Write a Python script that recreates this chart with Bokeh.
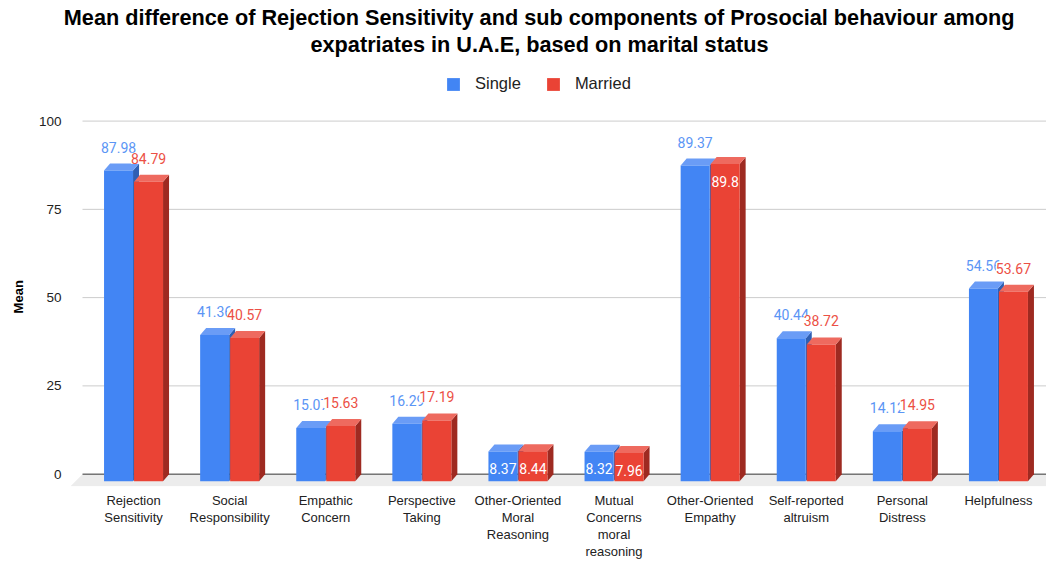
import numpy as np
from bokeh.plotting import figure
from bokeh.models import Range1d, FixedTicker, Legend, LegendItem, Title
from bokeh.core.properties import value
from bokeh.embed import file_html
from bokeh.resources import INLINE

# ---------------- data ----------------
categories = [
    "Rejection\nSensitivity",
    "Social\nResponsibility",
    "Empathic\nConcern",
    "Perspective\nTaking",
    "Other-Oriented\nMoral\nReasoning",
    "Mutual\nConcerns\nmoral\nreasoning",
    "Other-Oriented\nEmpathy",
    "Self-reported\naltruism",
    "Personal\nDistress",
    "Helpfulness",
]
single = [87.98, 41.36, 15.07, 16.29, 8.37, 8.32, 89.37, 40.44, 14.12, 54.56]
married = [84.79, 40.57, 15.63, 17.19, 8.44, 7.96, 89.8, 38.72, 14.95, 53.67]
# labels drawn inside the bar end (white) instead of above it
single_inside = [False, False, False, False, True, True, False, False, False, False]
married_inside = [False, False, False, False, True, True, True, False, False, False]
y_ticks = [0, 25, 50, 75, 100]
series_names = ["Single", "Married"]
title_lines = [
    "Mean difference of Rejection Sensitivity and sub components of Prosocial behaviour among",
    "expatriates in U.A.E, based on marital status",
]
y_title = "Mean"

# ---------------- geometry helpers ----------------
TOP = 56                      # space for the two title lines
LEFT = 70
FW, FH = 976, 430
PXY = 376 / 106.5             # pixels per value unit
X0, X1 = -0.156, 10.0
Y0 = -3.5
Y1 = Y0 + FH / PXY
PXX = FW / (X1 - X0)


def hx(px):
    return px / PXX


def hy(px):
    return px / PXY


DX, DY = hx(6), hy(7)
W, G = hx(29), hx(1)
n = len(categories)
centers = np.arange(n) + 0.5

BLUE, BLUE_TOP, BLUE_SIDE = "#4285f4", "#6a9cf6", "#2f5fb3"
RED, RED_TOP, RED_SIDE = "#ea4335", "#ee6a5f", "#9e2a21"
BLUE_TXT, RED_TXT = "#5b95f5", "#ec5045"

p = figure(
    frame_width=FW, frame_height=FH,
    x_range=Range1d(X0, X1), y_range=Range1d(Y0, Y1),
    output_backend="svg", toolbar_location=None,
    min_border_left=LEFT, min_border_top=TOP, min_border_right=0, min_border_bottom=0,
)
p.title.text = ""
p.title.standoff = 0
p.outline_line_color = None
p.grid.visible = False
p.background_fill_color = "white"

# floor slab
xg = X0 + hx(12)
p.patch([xg, X1, X1, xg - hx(12)], [0, 0, -hy(12), -hy(12)],
        fill_color="#ececec", line_color=None)
# gridlines
p.segment(x0=[xg] * 4, y0=y_ticks[1:], x1=[X1] * 4, y1=y_ticks[1:],
          line_color="#cccccc", line_width=1)
p.segment(x0=[xg], y0=[0], x1=[X1], y1=[0], line_color="#333333", line_width=1)


def faces(vals, xl_arr):
    fx, fy, tx, ty, sx, sy = [], [], [], [], [], []
    for v, xl in zip(vals, xl_arr):
        xr = xl + W
        fx.append([xl, xr, xr, xl]); fy.append([-DY, -DY, v - DY, v - DY])
        tx.append([xl, xr, xr + DX, xl + DX]); ty.append([v - DY, v - DY, v, v])
        sx.append([xr, xr + DX, xr + DX, xr]); sy.append([-DY, 0, v, v - DY])
    return fx, fy, tx, ty, sx, sy


renderers = []
for vals, xl_arr, cf, ct, cs in [
    (single, centers - G / 2 - W, BLUE, BLUE_TOP, BLUE_SIDE),
    (married, centers + G / 2, RED, RED_TOP, RED_SIDE),
]:
    fx, fy, tx, ty, sx, sy = faces(vals, xl_arr)
    p.patches(sx, sy, fill_color=cs, line_color=None)
    p.patches(tx, ty, fill_color=ct, line_color=None)
    r = p.patches(fx, fy, fill_color=cf, line_color=None)
    renderers.append(r)

# value labels
for vals, inside, xl_arr, col, bg in [
    (single, single_inside, centers - G / 2 - W, BLUE_TXT, None),
    (married, married_inside, centers + G / 2, RED_TXT, "white"),
]:
    ox, oy, ot, ix, iy, it = [], [], [], [], [], []
    for v, ins, xl in zip(vals, inside, xl_arr):
        xc = xl + W / 2
        if ins:
            ix.append(xc); iy.append(v - DY - hy(17)); it.append(f"{v:g}")
        else:
            ox.append(xc); oy.append(v + hy(16.5)); ot.append(f"{v:g}")
    kw = dict(text_align="center", text_baseline="middle",
              text_font=value("Roboto"), text_font_size="14px")
    if bg:
        p.text(ox, oy, text=ot, text_color=col, background_fill_color=bg, **kw)
    else:
        p.text(ox, oy, text=ot, text_color=col, **kw)
    p.text(ix, iy, text=it, text_color="white", **kw)

# axes
xa = p.xaxis[0]
xa.ticker = FixedTicker(ticks=[float(c) for c in centers])
xa.major_label_overrides = {float(c): lab for c, lab in zip(centers, categories)}
xa.axis_line_color = None
xa.major_tick_line_color = None
xa.minor_tick_line_color = None
xa.major_label_standoff = 0
xa.major_label_text_font = "Liberation Sans"
xa.major_label_text_font_size = "13px"
xa.major_label_text_line_height = 1.15
xa.major_label_text_color = "#222222"

ya = p.yaxis[0]
ya.ticker = FixedTicker(ticks=y_ticks)
ya.axis_line_color = None
ya.major_tick_line_color = None
ya.minor_tick_line_color = None
ya.major_label_standoff = 3
ya.major_label_text_font = "Liberation Sans"
ya.major_label_text_font_size = "13.5px"
ya.major_label_text_color = "#222222"
# trailing no-break spaces move the centred label down to the middle of the 0-100 span
ya.axis_label = y_title + "\u00a0" * 14
ya.axis_label_text_font = "Liberation Sans"
ya.axis_label_text_font_size = "13px"
ya.axis_label_text_font_style = "bold"
ya.axis_label_text_color = "#000000"
ya.axis_label_standoff = 10

legend = Legend(
    items=[LegendItem(label=series_names[0], renderers=[renderers[0]]),
           LegendItem(label=series_names[1], renderers=[renderers[1]])],
    location=(375, 393), orientation="horizontal",
    glyph_width=16, glyph_height=16, label_height=16, label_standoff=14, spacing=24,
    padding=0, margin=0, border_line_color=None, background_fill_alpha=0,
    label_text_font="Liberation Sans", label_text_font_size="16.5px",
    label_text_color="#222222",
)
p.add_layout(legend)

tkw = dict(align="left", text_font="Liberation Sans", text_font_size="21.7px",
           text_font_style="bold", text_color="#000000", standoff=0)
p.add_layout(Title(text=title_lines[1], offset=240, **tkw), "above")
p.add_layout(Title(text=title_lines[0], offset=-6.7, **tkw), "above")

open("out.html", "w").write(file_html(p, INLINE))
